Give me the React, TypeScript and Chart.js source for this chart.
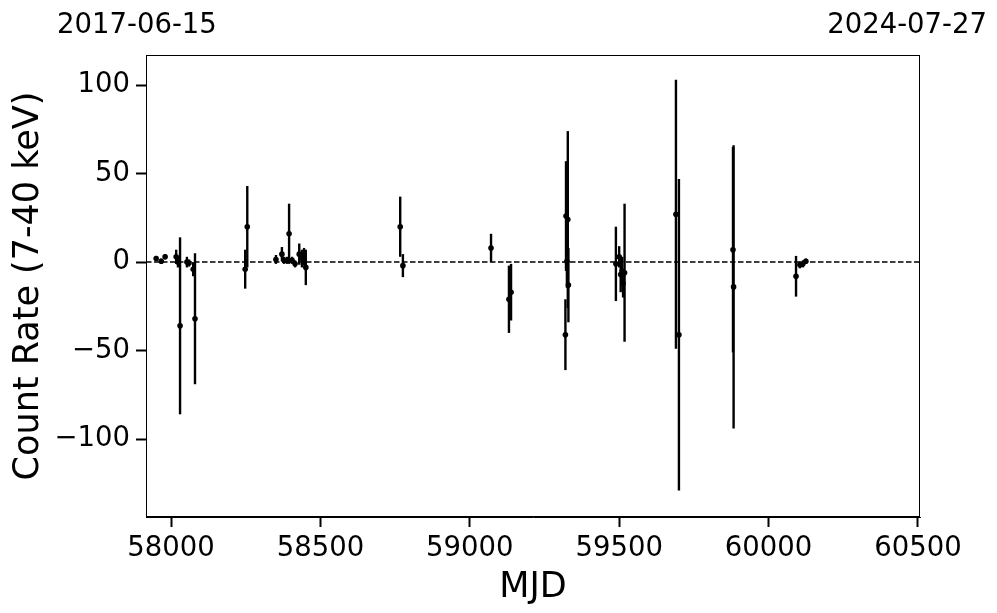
import React, { useEffect, useRef } from "react";
import { Chart, registerables } from "chart.js";

Chart.register(...registerables);

const mjd = [
  57950, 57967, 57980, 58017, 58023, 58030, 58053, 58060, 58074, 58080,
  58248, 58255, 58351, 58371, 58378, 58388, 58395, 58405, 58415, 58429,
  58438, 58445, 58451, 58767, 58776, 59071, 59131, 59138, 59320, 59322,
  59325, 59328, 59330, 59489, 59500, 59505, 59510, 59513, 59518, 59690,
  59700, 59881, 59883, 60092, 60105, 60115, 60125,
];
const rate = [
  2, 0.5, 3, 3, 0, -36, 0, -0.5, -4, -32,
  -4, 20, 1.5, 4.5, 1, 1, 16, 1, -1, 4.5,
  2, 3, -3, 20, -2, 8, -21, -17, -41, 26,
  0.5, 24, -13, -1, 3, -7, -5, -12, -6, 27,
  -41, 7, -14, -8, -1.5, -1, 0.5,
];
const rateErr = [
  1.5, 1.5, 1.5, 4, 3, 50, 3, 2, 4, 37,
  11, 23, 2.5, 4, 2, 2, 17, 2, 2, 6,
  5, 5, 10, 17, 6.5, 8, 19, 16, 20, 31,
  15, 50, 21, 21, 6, 10, 8, 8, 39, 76,
  88, 58, 80, 11.5, 2, 2, 1.5,
];
const xTicks = [58000, 58500, 59000, 59500, 60000, 60500];
const yTicks = [-100, -50, 0, 50, 100];
const startDate = "2017-06-15";
const endDate = "2024-07-27";

const FONT = "'DejaVu Sans', sans-serif";

export default function App() {
  const ref = useRef<HTMLCanvasElement | null>(null);

  useEffect(() => {
    document.body.style.margin = "0";
    const canvas = ref.current;
    if (!canvas) return;

    const overlay = {
      id: "overlay",
      beforeDatasetsDraw(chart: any) {
        const { ctx, chartArea, scales } = chart;
        const xs = scales.x;
        const ys = scales.y;
        ctx.save();
        ctx.beginPath();
        ctx.rect(chartArea.left, chartArea.top, chartArea.right - chartArea.left, chartArea.bottom - chartArea.top);
        ctx.clip();
        ctx.strokeStyle = "#000";
        ctx.lineWidth = 1.5;
        ctx.setLineDash([5.5, 2.5]);
        const y0 = ys.getPixelForValue(0);
        ctx.beginPath();
        ctx.moveTo(chartArea.left, y0);
        ctx.lineTo(chartArea.right, y0);
        ctx.stroke();
        ctx.setLineDash([]);
        ctx.lineWidth = 2.4;
        for (let i = 0; i < mjd.length; i++) {
          const px = xs.getPixelForValue(mjd[i]);
          const top = ys.getPixelForValue(rate[i] + rateErr[i]);
          const bot = ys.getPixelForValue(rate[i] - rateErr[i]);
          ctx.beginPath();
          ctx.moveTo(px, top);
          ctx.lineTo(px, bot);
          ctx.stroke();
        }
        ctx.restore();
      },
      afterDraw(chart: any) {
        const { ctx, chartArea } = chart;
        ctx.save();
        ctx.strokeStyle = "#000";
        ctx.lineWidth = 1;
        ctx.strokeRect(chartArea.left + 0.5, chartArea.top + 0.5, chartArea.right - chartArea.left - 1, chartArea.bottom - chartArea.top - 1);
        ctx.fillStyle = "#000";
        ctx.font = `27.5px ${FONT}`;
        ctx.textBaseline = "alphabetic";
        ctx.textAlign = "left";
        ctx.fillText(startDate, 57, 33);
        ctx.textAlign = "right";
        ctx.fillText(endDate, 987, 33);
        ctx.restore();
      },
    };

    const chart = new Chart(canvas, {
      type: "scatter",
      data: {
        datasets: [
          {
            data: mjd.map((m, i) => ({ x: m, y: rate[i] })),
            backgroundColor: "#000",
            borderColor: "#000",
            pointRadius: 2.8,
            pointHoverRadius: 2.8,
            borderWidth: 0,
          },
        ],
      },
      options: {
        animation: false,
        responsive: false,
        devicePixelRatio: 1,
        layout: { padding: { top: 55, right: 77, left: 0, bottom: 0 } },
        plugins: { legend: { display: false }, tooltip: { enabled: false } },
        scales: {
          x: {
            type: "linear",
            min: 57916,
            max: 60507,
            afterBuildTicks: (s: any) => {
              s.ticks = xTicks.map((v) => ({ value: v }));
            },
            afterFit: (s: any) => {
              s.height = 96;
            },
            grid: { display: true, drawOnChartArea: false, drawTicks: true, tickLength: 10, tickWidth: 2, color: "#000" },
            border: { display: true, color: "#000", width: 1 },
            ticks: { color: "#000", font: { family: FONT, size: 27.5 }, padding: 5, maxRotation: 0, autoSkip: false, callback: (v: any) => String(v) },
            title: { display: true, text: "MJD", color: "#000", font: { family: FONT, size: 35 }, padding: { top: 0, bottom: 4 } },
          },
          y: {
            type: "linear",
            min: -144,
            max: 117,
            afterBuildTicks: (s: any) => {
              s.ticks = yTicks.map((v) => ({ value: v }));
            },
            afterFit: (s: any) => {
              s.width = 146;
            },
            grid: { display: true, drawOnChartArea: false, drawTicks: true, tickLength: 10, tickWidth: 2, color: "#000" },
            border: { display: true, color: "#000", width: 1 },
            ticks: {
              color: "#000",
              font: { family: FONT, size: 27.5 },
              padding: 6,
              autoSkip: false,
              callback: (v: any) => (v < 0 ? "\u2212" + Math.abs(v) : String(v)),
            },
            title: { display: true, text: "Count Rate (7-40 keV)", color: "#000", font: { family: FONT, size: 35 }, padding: { top: 8, bottom: 0 } },
          },
        },
      },
      plugins: [overlay],
    });
    return () => chart.destroy();
  }, []);

  return (
    <div style={{ width: 997, height: 613 }}>
      <canvas ref={ref} width={997} height={613} style={{ display: "block" }} />
    </div>
  );
}
